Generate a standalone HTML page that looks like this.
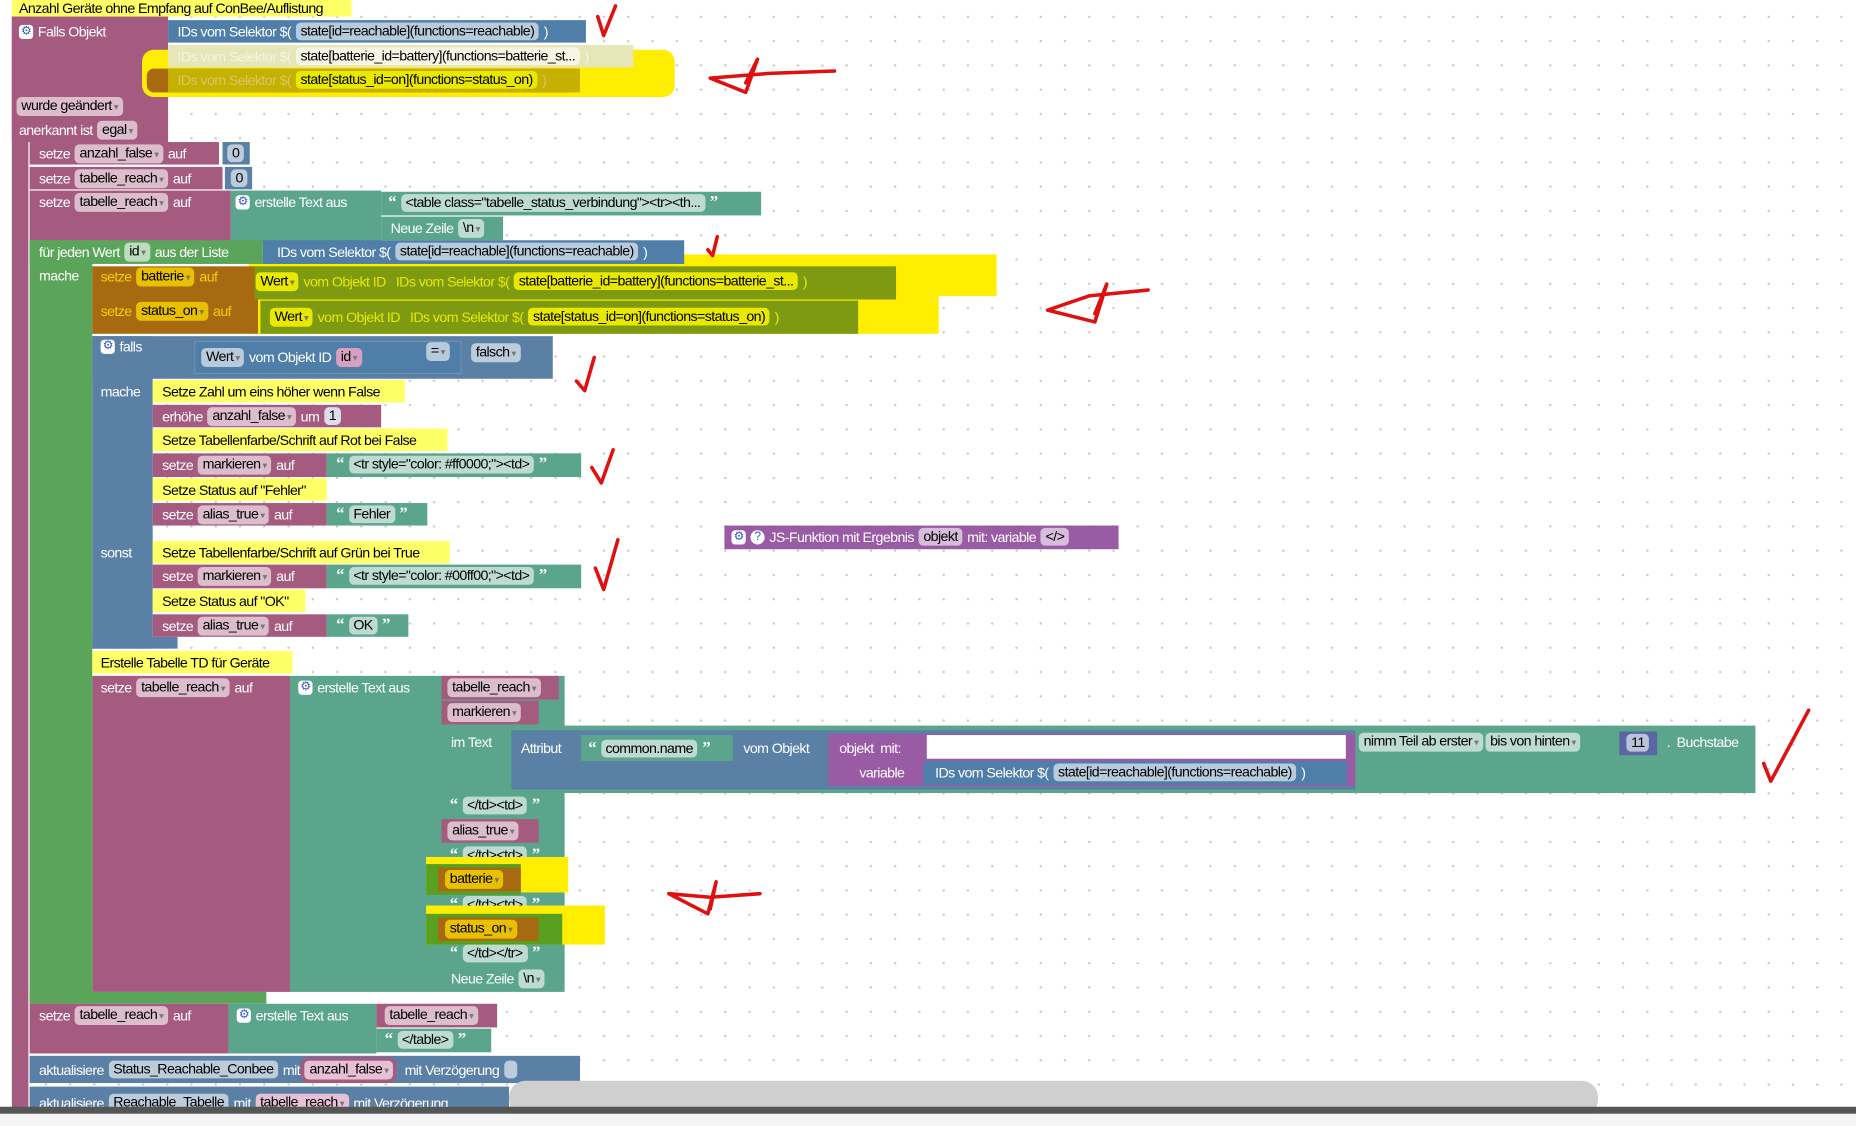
<!DOCTYPE html>
<html><head><meta charset="utf-8">
<style>
html,body{margin:0;padding:0;width:1856px;height:1126px;overflow:hidden;background:#fff;}
#root{position:absolute;left:0;top:0;width:1568px;height:951px;transform:scale(1.18367);transform-origin:0 0;
background-color:#fff;background-image:radial-gradient(circle,#c8c8c8 0.8px,transparent 1.2px);background-size:20.5px 20.5px;background-position:8px 4px;
font-family:"Liberation Sans",sans-serif;font-size:12px;}
.b{position:absolute;}
.r{position:absolute;display:flex;align-items:center;white-space:nowrap;color:#fff;font-size:12px;height:19px;gap:4px;letter-spacing:-0.5px}
.f{background:rgba(255,255,255,.6);color:#000;border-radius:4px;padding:0 4px;line-height:15px;}
.d:after{content:" \25BE";font-size:8px;color:#777}
.P{background:#a55b80}.G{background:#5ba55b}.B{background:#5b80a5}.T{background:#5ba58c}.V{background:#9a5ba5}.Y{background:#ffff66}.S{background:#4f7ea8}
.q{font-family:"Liberation Serif",serif;font-weight:bold;font-size:14px}
.gear{display:inline-block;width:12px;height:12px;border-radius:3px;background:#fff;color:#3355cc;font-size:10px;line-height:12px;text-align:center}
</style></head><body><div id="root">

<!-- highlight behind -->
<div class="b" style="left:210px;top:215px;width:632px;height:35px;background:#ffee00"></div>
<div class="b" style="left:210px;top:250px;width:583px;height:32px;background:#ffee00"></div>

<div class="b P" style="left:10px;top:14px;width:14px;height:926px"></div>
<div class="b Y" style="left:10px;top:0;width:287px;height:14px"></div>
<div class="r" style="left:16px;top:-3px;color:#000">Anzahl Geräte ohne Empfang auf ConBee/Auflistung</div>
<div class="b P" style="left:10px;top:14px;width:132px;height:106px"></div>
<div class="r" style="left:16px;top:17px"><span class="gear">⚙</span> Falls Objekt</div>
<div class="b S" style="left:142px;top:17px;width:353px;height:19px"></div>
<div class="r" style="left:150px;top:17px">IDs vom Selektor $( <span class="f">state[id=reachable](functions=reachable)</span> )</div>
<div class="b" style="left:120px;top:42px;width:450px;height:40px;background:#ffee00;border-radius:10px"></div>
<div class="b" style="left:142px;top:38px;width:393px;height:19px;background:#e6e6b8"></div>
<div class="r" style="left:150px;top:38px;color:#f4f4e0">IDs vom Selektor $( <span class="f">state[batterie_id=battery](functions=batterie_st...</span> )</div>
<div class="b" style="left:124px;top:58px;width:366px;height:20px;background:#a86a10;border-radius:6px"></div>
<div class="b" style="left:142px;top:58px;width:348px;height:20px;background:#c6b000"></div>
<div class="r" style="left:150px;top:58px;color:#d6c86a">IDs vom Selektor $( <span class="f" style="background:#e8e800">state[status_id=on](functions=status_on)</span> )</div>
<div class="r" style="left:14px;top:80px"><span class="f d">wurde geändert</span></div>
<div class="r" style="left:16px;top:100px">anerkannt ist <span class="f d">egal</span></div>

<div class="b P" style="left:25px;top:120px;width:160px;height:19px"></div>
<div class="r" style="left:33px;top:120px">setze <span class="f d">anzahl_false</span> auf</div>
<div class="b B" style="left:188px;top:120px;width:23px;height:19px"></div><div class="r" style="left:192px;top:120px"><span class="f">0</span></div>
<div class="b P" style="left:25px;top:141px;width:163px;height:19px"></div>
<div class="r" style="left:33px;top:141px">setze <span class="f d">tabelle_reach</span> auf</div>
<div class="b B" style="left:190px;top:141px;width:23px;height:19px"></div><div class="r" style="left:195px;top:141px"><span class="f">0</span></div>
<div class="b P" style="left:25px;top:161px;width:170px;height:44px"></div>
<div class="r" style="left:33px;top:161px">setze <span class="f d">tabelle_reach</span> auf</div>
<div class="b T" style="left:195px;top:161px;width:127px;height:44px"></div>
<div class="r" style="left:199px;top:161px"><span class="gear">⚙</span> erstelle Text aus</div>
<div class="b T" style="left:322px;top:162px;width:321px;height:20px"></div>
<div class="r" style="left:328px;top:162px"><span class="q">“</span><span class="f">&lt;table class="tabelle_status_verbindung"&gt;&lt;tr&gt;&lt;th...</span><span class="q">”</span></div>
<div class="b T" style="left:322px;top:183px;width:103px;height:20px"></div>
<div class="r" style="left:330px;top:183px">Neue Zeile <span class="f d">\n</span></div>

<div class="b G" style="left:25px;top:203px;width:197px;height:20px"></div>
<div class="b G" style="left:25px;top:203px;width:53px;height:645px"></div>
<div class="b G" style="left:25px;top:838px;width:200px;height:10px"></div>
<div class="r" style="left:33px;top:203px">für jeden Wert <span class="f d">id</span> aus der Liste</div>
<div class="b S" style="left:222px;top:203px;width:356px;height:20px"></div>
<div class="r" style="left:234px;top:203px">IDs vom Selektor $( <span class="f">state[id=reachable](functions=reachable)</span> )</div>
<div class="r" style="left:33px;top:223px">mache</div>

<div class="b" style="left:78px;top:225px;width:140px;height:57px;background:#a86a10"></div>
<div class="b" style="left:215px;top:225px;width:542px;height:28px;background:#7e9a10"></div>
<div class="b" style="left:220px;top:254px;width:505px;height:28px;background:#7e9a10"></div>
<div class="r" style="left:85px;top:224px;color:#f0d000">setze <span class="f d" style="background:#e8c000">batterie</span> auf</div>
<div class="r" style="left:216px;top:228px;color:#e8e800"><span class="f d" style="background:#e8e800">Wert</span> vom Objekt ID &nbsp; IDs vom Selektor $( <span class="f" style="background:#e8e800">state[batterie_id=battery](functions=batterie_st...</span> )</div>
<div class="r" style="left:85px;top:253px;color:#f0d000">setze <span class="f d" style="background:#e8c000">status_on</span> auf</div>
<div class="r" style="left:228px;top:258px;color:#e8e800"><span class="f d" style="background:#e8e800">Wert</span> vom Objekt ID &nbsp; IDs vom Selektor $( <span class="f" style="background:#e8e800">state[status_id=on](functions=status_on)</span> )</div>

<div class="b B" style="left:78px;top:284px;width:389px;height:36px"></div>
<div class="b B" style="left:78px;top:284px;width:51px;height:264px"></div>
<div class="b B" style="left:78px;top:538px;width:72px;height:10px"></div>
<div class="r" style="left:85px;top:283px"><span class="gear">⚙</span> falls</div>
<div class="b S" style="left:165px;top:289px;width:224px;height:26px;outline:1px solid #6d90b5"></div>
<div class="r" style="left:170px;top:292px"><span class="f d">Wert</span> vom Objekt ID <span class="f d" style="background:#d8a0c0">id</span></div>
<div class="r" style="left:360px;top:287px"><span class="f d">=</span></div>
<div class="r" style="left:398px;top:288px"><span class="f d">falsch</span></div>
<div class="r" style="left:85px;top:321px">mache</div>
<div class="r" style="left:85px;top:457px">sonst</div>

<div class="b Y" style="left:129px;top:321px;width:213px;height:19px"></div>
<div class="r" style="left:137px;top:321px;color:#000">Setze Zahl um eins höher wenn False</div>
<div class="b P" style="left:129px;top:342px;width:193px;height:19px"></div>
<div class="r" style="left:137px;top:342px">erhöhe <span class="f d">anzahl_false</span> um <span class="f" style="background:#dde">1</span></div>
<div class="b Y" style="left:129px;top:362px;width:249px;height:19px"></div>
<div class="r" style="left:137px;top:362px;color:#000">Setze Tabellenfarbe/Schrift auf Rot bei False</div>
<div class="b P" style="left:129px;top:383px;width:147px;height:20px"></div>
<div class="r" style="left:137px;top:383px">setze <span class="f d">markieren</span> auf</div>
<div class="b T" style="left:276px;top:383px;width:215px;height:20px"></div>
<div class="r" style="left:284px;top:383px"><span class="q">“</span><span class="f">&lt;tr style="color: #ff0000;"&gt;&lt;td&gt;</span><span class="q">”</span></div>
<div class="b Y" style="left:129px;top:404px;width:147px;height:19px"></div>
<div class="r" style="left:137px;top:404px;color:#000">Setze Status auf "Fehler"</div>
<div class="b P" style="left:129px;top:425px;width:147px;height:19px"></div>
<div class="r" style="left:137px;top:425px">setze <span class="f d">alias_true</span> auf</div>
<div class="b T" style="left:276px;top:425px;width:85px;height:19px"></div>
<div class="r" style="left:284px;top:425px"><span class="q">“</span><span class="f">Fehler</span><span class="q">”</span></div>

<div class="b Y" style="left:129px;top:457px;width:251px;height:19px"></div>
<div class="r" style="left:137px;top:457px;color:#000">Setze Tabellenfarbe/Schrift auf Grün bei True</div>
<div class="b P" style="left:129px;top:477px;width:147px;height:20px"></div>
<div class="r" style="left:137px;top:477px">setze <span class="f d">markieren</span> auf</div>
<div class="b T" style="left:276px;top:477px;width:215px;height:20px"></div>
<div class="r" style="left:284px;top:477px"><span class="q">“</span><span class="f">&lt;tr style="color: #00ff00;"&gt;&lt;td&gt;</span><span class="q">”</span></div>
<div class="b Y" style="left:129px;top:498px;width:129px;height:19px"></div>
<div class="r" style="left:137px;top:498px;color:#000">Setze Status auf "OK"</div>
<div class="b P" style="left:129px;top:519px;width:147px;height:19px"></div>
<div class="r" style="left:137px;top:519px">setze <span class="f d">alias_true</span> auf</div>
<div class="b T" style="left:276px;top:519px;width:69px;height:19px"></div>
<div class="r" style="left:284px;top:519px"><span class="q">“</span><span class="f">OK</span><span class="q">”</span></div>

<div class="b V" style="left:612px;top:444px;width:333px;height:20px"></div>
<div class="r" style="left:618px;top:444px"><span class="gear">⚙</span><span class="gear" style="border-radius:6px">?</span> JS-Funktion mit Ergebnis <span class="f">objekt</span> mit: variable <span class="f">&lt;/&gt;</span></div>

<div class="b Y" style="left:78px;top:550px;width:169px;height:19px"></div>
<div class="r" style="left:85px;top:550px;color:#000">Erstelle Tabelle TD für Geräte</div>
<div class="b P" style="left:78px;top:571px;width:167px;height:267px"></div>
<div class="r" style="left:85px;top:571px">setze <span class="f d">tabelle_reach</span> auf</div>
<div class="b T" style="left:245px;top:571px;width:128px;height:267px"></div>
<div class="r" style="left:252px;top:571px"><span class="gear">⚙</span> erstelle Text aus</div>
<div class="b T" style="left:373px;top:571px;width:104px;height:267px"></div>
<div class="b P" style="left:373px;top:571px;width:99px;height:20px"></div>
<div class="r" style="left:378px;top:571px"><span class="f d">tabelle_reach</span></div>
<div class="b P" style="left:373px;top:592px;width:82px;height:20px"></div>
<div class="r" style="left:378px;top:592px"><span class="f d">markieren</span></div>
<div class="b T" style="left:373px;top:613px;width:1110px;height:57px"></div>
<div class="r" style="left:381px;top:617px">im Text</div>
<div class="b B" style="left:432px;top:617px;width:713px;height:50px"></div>
<div class="r" style="left:440px;top:622px">Attribut</div>
<div class="b T" style="left:491px;top:621px;width:128px;height:22px"></div>
<div class="r" style="left:497px;top:623px"><span class="q">“</span><span class="f">common.name</span><span class="q">”</span></div>
<div class="r" style="left:628px;top:622px">vom Objekt</div>
<div class="b V" style="left:700px;top:620px;width:445px;height:44px"></div>
<div class="r" style="left:709px;top:622px">objekt &nbsp;mit:</div>
<div class="b" style="left:783px;top:621px;width:354px;height:20px;background:#fff"></div>
<div class="r" style="left:726px;top:643px">variable</div>
<div class="b S" style="left:780px;top:643px;width:358px;height:20px"></div>
<div class="r" style="left:790px;top:643px">IDs vom Selektor $( <span class="f">state[id=reachable](functions=reachable)</span> )</div>
<div class="r" style="left:1148px;top:617px;gap:2px"><span class="f d">nimm Teil ab erster</span><span class="f d">bis von hinten</span></div>
<div class="b" style="left:1368px;top:618px;width:32px;height:20px;background:#5b67a5"></div>
<div class="r" style="left:1374px;top:618px"><span class="f">11</span></div>
<div class="r" style="left:1408px;top:617px">. &nbsp;Buchstabe</div>

<div class="r" style="left:380px;top:671px"><span class="q">“</span><span class="f">&lt;/td&gt;&lt;td&gt;</span><span class="q">”</span></div>
<div class="b P" style="left:373px;top:692px;width:82px;height:20px"></div>
<div class="r" style="left:378px;top:692px"><span class="f d">alias_true</span></div>
<div class="r" style="left:380px;top:713px"><span class="q">“</span><span class="f">&lt;/td&gt;&lt;td&gt;</span><span class="q">”</span></div>
<div class="b" style="left:360px;top:724px;width:120px;height:30px;background:#ffee00"></div>
<div class="b" style="left:360px;top:730px;width:80px;height:26px;background:#5aa020"></div>
<div class="b" style="left:370px;top:733px;width:70px;height:20px;background:#a86a10"></div>
<div class="r" style="left:376px;top:733px"><span class="f d" style="background:#e8c000">batterie</span></div>
<div class="r" style="left:380px;top:755px"><span class="q">“</span><span class="f">&lt;/td&gt;&lt;td&gt;</span><span class="q">”</span></div>
<div class="b" style="left:360px;top:765px;width:151px;height:33px;background:#ffee00"></div>
<div class="b" style="left:360px;top:772px;width:115px;height:26px;background:#5aa020"></div>
<div class="b" style="left:370px;top:775px;width:85px;height:20px;background:#a86a10"></div>
<div class="r" style="left:376px;top:775px"><span class="f d" style="background:#e8c000">status_on</span></div>
<div class="r" style="left:380px;top:796px"><span class="q">“</span><span class="f">&lt;/td&gt;&lt;/tr&gt;</span><span class="q">”</span></div>
<div class="r" style="left:381px;top:817px">Neue Zeile <span class="f d">\n</span></div>

<div class="b P" style="left:25px;top:848px;width:168px;height:42px"></div>
<div class="r" style="left:33px;top:848px">setze <span class="f d">tabelle_reach</span> auf</div>
<div class="b T" style="left:193px;top:848px;width:125px;height:42px"></div>
<div class="r" style="left:200px;top:848px"><span class="gear">⚙</span> erstelle Text aus</div>
<div class="b P" style="left:318px;top:848px;width:102px;height:20px"></div>
<div class="r" style="left:325px;top:848px"><span class="f d">tabelle_reach</span></div>
<div class="b T" style="left:318px;top:869px;width:97px;height:20px"></div>
<div class="r" style="left:325px;top:869px"><span class="q">“</span><span class="f">&lt;/table&gt;</span><span class="q">”</span></div>
<div class="b B" style="left:25px;top:892px;width:465px;height:23px"></div>
<div class="r" style="left:33px;top:894px">aktualisiere <span class="f">Status_Reachable_Conbee</span> mit <span class="f d" style="background:#e6c0d4;outline:3px solid #a55b80">anzahl_false</span>&nbsp; mit Verzögerung <span class="f">&nbsp;</span></div>
<div class="b B" style="left:25px;top:918px;width:405px;height:22px"></div>
<div class="r" style="left:33px;top:922px">aktualisiere <span class="f">Reachable_Tabelle</span> mit <span class="f d" style="background:#e6c0d4">tabelle_reach</span> mit Verzögerung</div>
<div class="b" style="left:430px;top:913px;width:920px;height:30px;background:#cfcfcf;border-radius:14px"></div>
<div class="b" style="left:0;top:935px;width:1568px;height:6px;background:#555"></div>
<div class="b" style="left:0;top:941px;width:1568px;height:10px;background:#f4f4f4"></div>

<svg class="b" style="left:0;top:0" width="1568" height="951">
<g fill="none" stroke="#e01010" stroke-width="3" stroke-linecap="round" stroke-linejoin="round">
<path d="M505 14 L510 30 L520 5"/>
<path d="M705 60 L650 62 L600 66 L630 78 L640 50 L630 70"/>
<path d="M598 211 L602 216 L606 200"/>
<path d="M970 245 L920 250 L885 262 L925 272 L935 240 L925 265"/>
<path d="M487 322 L494 330 L502 302"/>
<path d="M500 395 L508 408 L518 380"/>
<path d="M503 480 L510 498 L522 456"/>
<path d="M1490 645 L1496 660 L1528 600"/>
<path d="M642 755 L600 758 L565 755 L598 772 L605 745 L600 768"/>
</g></svg>
</div></body></html>
